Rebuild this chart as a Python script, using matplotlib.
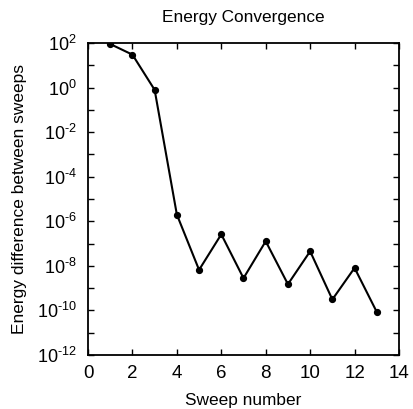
import math
import matplotlib
matplotlib.use("Agg")
import matplotlib.pyplot as plt
from matplotlib.ticker import FixedLocator, FuncFormatter, NullLocator

plt.rcParams['font.family'] = ['Liberation Sans', 'DejaVu Sans']
plt.rcParams['mathtext.fontset'] = 'custom'
plt.rcParams['mathtext.rm'] = 'Liberation Sans'
plt.rcParams['mathtext.default'] = 'regular'

sweeps = [1, 2, 3, 4, 5, 6, 7, 8, 9, 10, 11, 12, 13]
energy_diff = [90, 30, 0.79, 2.0e-6, 6.6e-9, 2.6e-7, 2.8e-9, 1.27e-7,
               1.5e-9, 4.5e-8, 3.1e-10, 8.1e-9, 8.5e-11]
x_ticks = [0, 2, 4, 6, 8, 10, 12, 14]
y_label_exps = [2, 0, -2, -4, -6, -8, -10, -12]

fig = plt.figure(figsize=(4.13, 4.09), dpi=100)
ax = fig.add_axes([88/413, 1-355/409, (399-88)/413, (355-43)/409])

ax.plot(sweeps, energy_diff, color='black', lw=1.5, marker='o', ms=4.2)
ax.set_yscale('log')
ax.set_xlim(0, 14)
ax.set_ylim(1e-12, 1e2)

ax.xaxis.set_major_locator(FixedLocator(x_ticks))
ax.xaxis.set_minor_locator(NullLocator())
ax.yaxis.set_major_locator(FixedLocator([10.0**e for e in range(-12, 3)]))
ax.yaxis.set_minor_locator(NullLocator())

def yfmt(v, pos):
    e = int(round(math.log10(v)))
    if e in y_label_exps:
        if e < 0:
            return r'10$^{\text{-}%d}$' % (-e)
        return r'10$^{%d}$' % e
    return ''
ax.yaxis.set_major_formatter(FuncFormatter(yfmt))

ax.tick_params(direction='in', length=4, width=1.0, top=True, right=True)
ax.tick_params(axis='x', labelsize=13.5, pad=7)
ax.tick_params(axis='y', labelsize=13, pad=8)
for s in ax.spines.values():
    s.set_linewidth(1.3)

ax.set_xlabel('Sweep number', fontsize=12.4, labelpad=8)
ax.set_ylabel('Energy difference between sweeps', fontsize=12.5, labelpad=7)
ax.set_title('Energy Convergence', fontsize=12.4, pad=15)

fig.savefig('out.png', dpi=100)
